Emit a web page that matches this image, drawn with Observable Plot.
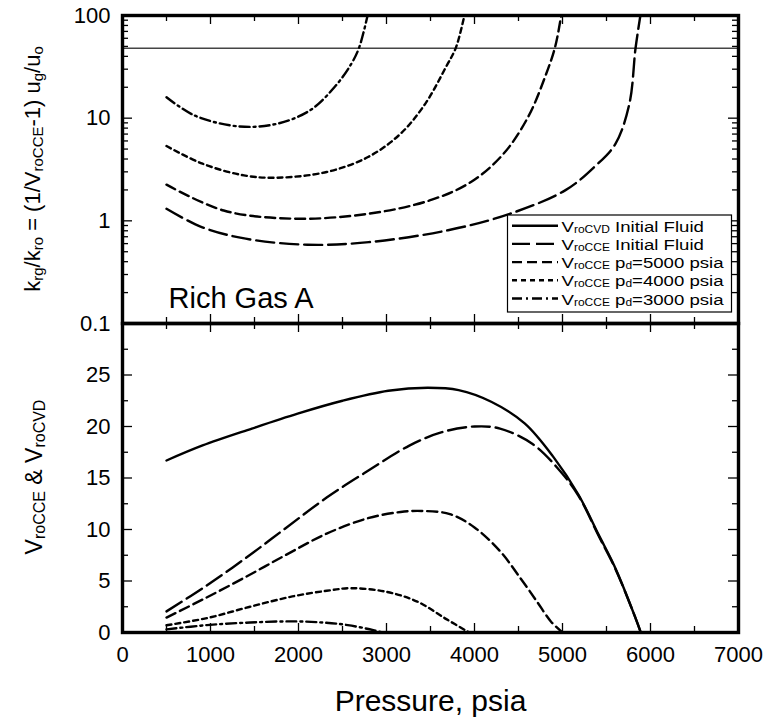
<!DOCTYPE html>
<html><head><meta charset="utf-8">
<script src="https://cdn.jsdelivr.net/npm/d3@7"></script>
<script src="https://cdn.jsdelivr.net/npm/@observablehq/plot@0.6"></script>
<style>
body{margin:0;background:#fff;}
#chart{position:relative;width:766px;height:722px;font-family:"Liberation Sans",Arial,sans-serif;}
#chart > svg{position:absolute;left:0;}
</style></head><body><div id="chart"></div>
<script>
// ---------- data ----------
const pressureTicks = [0, 1000, 2000, 3000, 4000, 5000, 6000, 7000];
const ratioTicks = [0.1, 1, 10, 100];
const volumeTicks = [0, 5, 10, 15, 20, 25];
const criticalRatio = [48];
const panelLabel = ["Rich Gas A"];
const xLabel = ["Pressure, psia"];

// top panel: krg/kro ratio
const ratioCCEInitP = [500, 900, 1400, 2100, 2800, 3700, 4400, 5030, 5360, 5600, 5760, 5830, 5885];
const ratioCCEInitV = [1.31, 0.87, 0.67, 0.585, 0.62, 0.81, 1.17, 1.98, 3.34, 5.6, 13.8, 48, 100];
const ratio5000P = [500, 1150, 1940, 2790, 3490, 3960, 4330, 4610, 4800, 4915, 4985];
const ratio5000V = [2.25, 1.26, 1.05, 1.17, 1.58, 2.39, 4.5, 10.3, 25, 49, 100];
const ratio4000P = [500, 910, 1380, 1750, 2320, 2790, 3160, 3440, 3675, 3790, 3885];
const ratio4000V = [5.35, 3.6, 2.77, 2.63, 2.99, 4.18, 7.06, 13.8, 31.4, 49, 100];
const ratio3000P = [500, 820, 1330, 1750, 2130, 2410, 2600, 2690, 2785];
const ratio3000V = [16.0, 10.6, 8.3, 8.8, 11.9, 20.1, 33.8, 49, 100];

// bottom panel: relative volumes
const cvdP = [500, 910, 1470, 1990, 2500, 3020, 3470, 3820, 4190, 4570, 4900, 5180, 5410, 5600, 5830, 5890];
const cvdV = [16.7, 18.16, 19.8, 21.25, 22.5, 23.47, 23.76, 23.53, 22.4, 20.3, 17.0, 13.4, 9.5, 6.27, 1.4, 0];
const cceInitP = [500, 910, 1380, 1850, 2320, 2790, 3260, 3630, 4000, 4290, 4660, 4940, 5180, 5410, 5600, 5830, 5890];
const cceInitV = [2.05, 4.3, 7.1, 10.1, 13.1, 15.7, 18.15, 19.45, 20.0, 19.8, 18.3, 16.0, 13.3, 9.4, 6.2, 1.4, 0];
const cce5000P = [500, 910, 1380, 1850, 2320, 2790, 3160, 3400, 3720, 4000, 4290, 4520, 4710, 4870, 5000];
const cce5000V = [1.45, 3.2, 5.3, 7.5, 9.6, 11.1, 11.7, 11.8, 11.5, 10.2, 7.9, 5.3, 3.0, 1.05, 0];
const cce4000P = [500, 960, 1450, 1930, 2320, 2600, 3000, 3350, 3680, 3940];
const cce4000V = [0.7, 1.4, 2.5, 3.5, 4.05, 4.3, 3.95, 3.0, 1.3, 0];
const cce3000P = [500, 960, 1450, 1950, 2300, 2560, 2850, 2950];
const cce3000V = [0.3, 0.72, 0.97, 1.08, 0.95, 0.72, 0.23, 0];

const legendRows = [
  [["V", 0], ["roCVD", 1], [" Initial Fluid", 0]],
  [["V", 0], ["roCCE", 1], [" Initial Fluid", 0]],
  [["V", 0], ["roCCE", 1], [" p", 0], ["d", 1], ["=5000 psia", 0]],
  [["V", 0], ["roCCE", 1], [" p", 0], ["d", 1], ["=4000 psia", 0]],
  [["V", 0], ["roCCE", 1], [" p", 0], ["d", 1], ["=3000 psia", 0]]
];
const topYLabel = [["k", 0], ["rg", 1], ["/k", 0], ["ro", 1], [" = (1/V", 0], ["roCCE", 1], ["-1) u", 0], ["g", 1], ["/u", 0], ["o", 1]];
const bottomYLabel = [["V", 0], ["roCCE", 1], [" & V", 0], ["roCVD", 1]];

// ---------- styles ----------
const dash = {cvd: "none", cceInit: "18,6", cce5000: "10,5", cce4000: "5,4", cce3000: "10,4,2,4"};
const SW = 2.4;

const rows = (P, V) => P.map((p, i) => ({p, v: V[i]}));
const topSeries = [
  [rows(ratioCCEInitP, ratioCCEInitV), dash.cceInit],
  [rows(ratio5000P, ratio5000V), dash.cce5000],
  [rows(ratio4000P, ratio4000V), dash.cce4000],
  [rows(ratio3000P, ratio3000V), dash.cce3000]
];
const bottomSeries = [
  [rows(cvdP, cvdV), dash.cvd],
  [rows(cceInitP, cceInitV), dash.cceInit],
  [rows(cce5000P, cce5000V), dash.cce5000],
  [rows(cce4000P, cce4000V), dash.cce4000],
  [rows(cce3000P, cce3000V), dash.cce3000]
];

const W = 766, ML = 122, MR = 28, PW = W - ML - MR;
const font = "'Liberation Sans', Arial, sans-serif";
const halfTicks = d3.range(500, 7000, 1000);
const minorLog = [0.1, 1, 10].flatMap(d => d3.range(2, 10).map(k => +(k * d).toFixed(3)));
const minorVol = [2.5, 7.5, 12.5, 17.5, 22.5, 27.5];

function xTicks(PH) {
  return [
    Plot.ruleX(pressureTicks.slice(1, -1), {x: d => d, insetBottom: PH - 9, strokeWidth: 1.3}),
    Plot.ruleX(halfTicks, {x: d => d, insetBottom: PH - 6, strokeWidth: 1.3}),
    Plot.ruleX(pressureTicks.slice(1, -1), {x: d => d, insetTop: PH - 9, strokeWidth: 1.3}),
    Plot.ruleX(halfTicks, {x: d => d, insetTop: PH - 6, strokeWidth: 1.3})
  ];
}
function yTicks(major, minor) {
  return [
    Plot.ruleY(major, {y: d => d, insetRight: PW - 10, strokeWidth: 1.3}),
    Plot.ruleY(minor, {y: d => d, insetRight: PW - 6, strokeWidth: 1.3}),
    Plot.ruleY(major, {y: d => d, insetLeft: PW - 10, strokeWidth: 1.3}),
    Plot.ruleY(minor, {y: d => d, insetLeft: PW - 6, strokeWidth: 1.3})
  ];
}

// ---------- top panel ----------
const TH = 326, TMT = 15, TMB = 3, TPH = TH - TMT - TMB;
const topPlot = Plot.plot({
  width: W, height: TH, marginLeft: ML, marginRight: MR, marginTop: TMT, marginBottom: TMB,
  style: {background: "transparent", fontFamily: font, fontSize: "22px", overflow: "visible"},
  x: {domain: [0, 7000], axis: null},
  y: {type: "log", domain: [0.1, 100], axis: null},
  marks: [
    Plot.ruleY(criticalRatio, {stroke: "#444", strokeWidth: 1.3}),
    ...topSeries.map(([d, da]) => Plot.line(d, {x: "p", y: "v", stroke: "black", strokeWidth: SW,
      strokeDasharray: da, curve: "catmull-rom", clip: true})),
    ...xTicks(TPH),
    ...yTicks(ratioTicks, minorLog),
    Plot.axisY({ticks: ratioTicks, tickSize: 0, tickPadding: 12, tickFormat: d => String(d), label: null, fontSize: 22}),
    Plot.text(panelLabel, {frameAnchor: "bottom-left", dx: 46, dy: -16, fontSize: 29, textAnchor: "start", lineAnchor: "bottom"}),
    Plot.frame({stroke: "black", strokeWidth: 3.4})
  ]
});
topPlot.style.top = "0px";
document.getElementById("chart").appendChild(topPlot);

// ---------- bottom panel ----------
const BOFF = 320, BH = 402, BMT = 3, BMB = 90, BPH = BH - BMT - BMB;
const bottomPlot = Plot.plot({
  width: W, height: BH, marginLeft: ML, marginRight: MR, marginTop: BMT, marginBottom: BMB,
  style: {background: "transparent", fontFamily: font, fontSize: "22px", overflow: "visible"},
  x: {domain: [0, 7000], axis: null},
  y: {domain: [0, 30], axis: null},
  marks: [
    ...bottomSeries.map(([d, da]) => Plot.line(d, {x: "p", y: "v", stroke: "black", strokeWidth: SW,
      strokeDasharray: da, curve: "catmull-rom", clip: true})),
    ...xTicks(BPH),
    ...yTicks(volumeTicks.slice(1), minorVol),
    Plot.axisY({ticks: volumeTicks, tickSize: 0, tickPadding: 12, tickFormat: d => String(d), label: null, fontSize: 22}),
    Plot.axisX({ticks: pressureTicks, tickSize: 0, tickPadding: 14, tickFormat: d => String(d), label: null, fontSize: 22}),
    Plot.text(xLabel, {frameAnchor: "bottom", dy: 78, fontSize: 30, lineAnchor: "bottom"}),
    Plot.frame({stroke: "black", strokeWidth: 3.4})
  ]
});
bottomPlot.style.top = BOFF + "px";
document.getElementById("chart").appendChild(bottomPlot);

// ---------- overlay: axis titles with subscripts + legend ----------
const ov = d3.select("#chart").append("svg")
  .attr("width", W).attr("height", 722)
  .style("position", "absolute").style("left", "0px").style("top", "0px")
  .style("pointer-events", "none").style("font-family", font);

function rich(textSel, parts, main, sub, shift) {
  let prev = 0;
  parts.forEach(([t, s]) => {
    const ts = textSel.append("tspan").text(t).attr("font-size", s ? sub : main);
    if (s !== prev) ts.attr("dy", s ? shift : -shift);
    prev = s;
  });
}

const t1 = ov.append("text").attr("transform", "translate(39.5,169) rotate(-90)").attr("text-anchor", "middle").style("white-space", "pre");
rich(t1, topYLabel, 22, 15, 3);
const t2 = ov.append("text").attr("transform", "translate(42,477) rotate(-90)").attr("text-anchor", "middle").style("white-space", "pre");
rich(t2, bottomYLabel, 23, 16, 3);

const lg = ov.append("g");
lg.append("rect").attr("x", 507.5).attr("y", 215).attr("width", 224).attr("height", 97)
  .attr("fill", "white").attr("stroke", "black").attr("stroke-width", 1.2);
const legendDash = [dash.cvd, dash.cceInit, dash.cce5000, dash.cce4000, dash.cce3000];
legendRows.forEach((parts, i) => {
  const yc = 225.7 + i * 18.2;
  lg.append("line").attr("x1", 512).attr("x2", 558).attr("y1", yc).attr("y2", yc)
    .attr("stroke", "black").attr("stroke-width", SW).attr("stroke-dasharray", legendDash[i]);
  const tx = lg.append("text")
    .attr("transform", `translate(561.5,${yc + 6}) scale(1.2,1)`)
    .style("white-space", "pre");
  rich(tx, parts, 15.5, 10, 1);
});
</script>
</body></html>
